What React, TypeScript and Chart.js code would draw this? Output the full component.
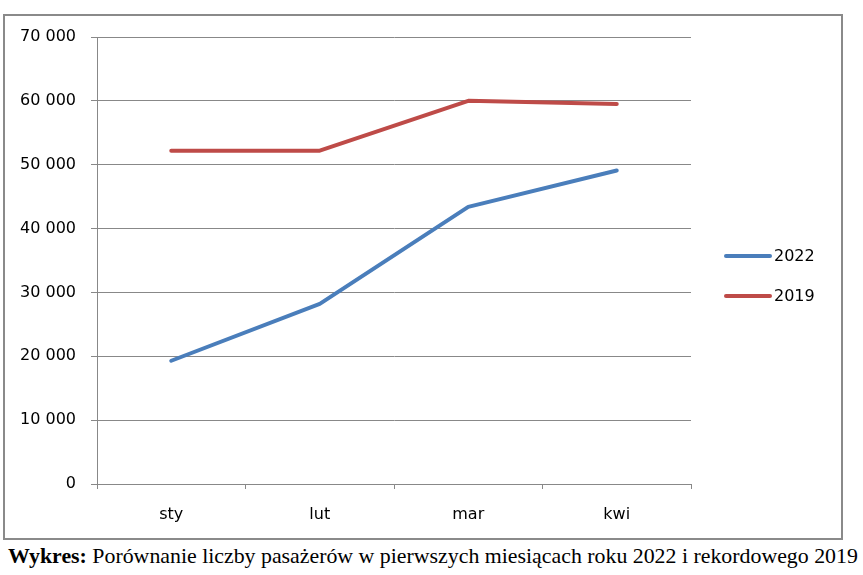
import React, { useEffect, useRef } from "react";
import { Chart, registerables } from "chart.js";

Chart.register(...registerables);

const months = ["sty", "lut", "mar", "kwi"];
const series2022 = [19300, 28200, 43400, 49100];
const series2019 = [52200, 52200, 60000, 59500];
const seriesLabels = ["2022", "2019"];
const seriesColors = ["#4a7ebb", "#be4b48"];
const yMin = 0;
const yMax = 70000;
const yStep = 10000;

const FONT = "'DejaVu Sans', sans-serif";
const GRID = "#888888";

const fmt = (v: number) => {
  const s = String(Math.round(v));
  return s.replace(/\B(?=(\d{3})+(?!\d))/g, " ");
};

const sideLegend = {
  id: "sideLegend",
  afterDraw(chart: any) {
    const ctx = chart.ctx;
    ctx.save();
    chart.data.datasets.forEach((ds: any, i: number) => {
      const y = 240 + i * 40;
      ctx.strokeStyle = ds.borderColor;
      ctx.lineWidth = 4;
      ctx.lineCap = "round";
      ctx.beginPath();
      ctx.moveTo(721, y);
      ctx.lineTo(765, y);
      ctx.stroke();
      ctx.fillStyle = "#000";
      ctx.font = `16px ${FONT}`;
      ctx.textAlign = "left";
      ctx.textBaseline = "middle";
      ctx.fillText(ds.label, 769, y + 1);
    });
    ctx.restore();
  },
};

export default function App() {
  const ref = useRef<HTMLCanvasElement | null>(null);

  useEffect(() => {
    if (!ref.current) return;
    const chart = new Chart(ref.current, {
      type: "line",
      data: {
        labels: months,
        datasets: [
          {
            label: seriesLabels[0],
            data: series2022,
            borderColor: seriesColors[0],
            backgroundColor: seriesColors[0],
            borderWidth: 4,
            pointRadius: 0,
            tension: 0,
            borderCapStyle: "round",
            borderJoinStyle: "round",
          },
          {
            label: seriesLabels[1],
            data: series2019,
            borderColor: seriesColors[1],
            backgroundColor: seriesColors[1],
            borderWidth: 4,
            pointRadius: 0,
            tension: 0,
            borderCapStyle: "round",
            borderJoinStyle: "round",
          },
        ],
      },
      options: {
        responsive: false,
        animation: false,
        devicePixelRatio: 1,
        layout: { padding: { left: 0, top: 21, right: 150, bottom: 0 } },
        plugins: {
          legend: { display: false },
          tooltip: { enabled: false },
        },
        scales: {
          x: {
            offset: true,
            grid: {
              offset: true,
              drawOnChartArea: false,
              drawTicks: true,
              tickLength: 5,
              color: GRID,
              lineWidth: 1,
            },
            border: { display: true, color: GRID, width: 1 },
            ticks: {
              color: "#000",
              font: { family: FONT, size: 16 },
              padding: 16,
              maxRotation: 0,
            },
            afterFit(scale: any) {
              scale.height = 54;
            },
          },
          y: {
            min: yMin,
            max: yMax,
            grid: {
              color: GRID,
              lineWidth: 1,
              drawTicks: true,
              tickLength: 6,
            },
            border: { display: true, color: GRID, width: 1 },
            ticks: {
              stepSize: yStep,
              color: "#000",
              font: { family: FONT, size: 16 },
              padding: 15,
              callback: (v: any) => fmt(Number(v)),
            },
            afterFit(scale: any) {
              scale.width = 92;
              scale.paddingTop = 10;
              scale.paddingBottom = 10;
            },
          },
        },
      },
      plugins: [sideLegend],
    } as any);
    return () => chart.destroy();
  }, []);

  return (
    <div style={{ position: "absolute", left: 0, top: 0, width: 863, height: 575, background: "#fff" }}>
      <div
        style={{
          position: "absolute",
          left: 3,
          top: 14,
          width: 836,
          height: 522,
          border: "2px solid #8a8a8a",
        }}
      >
        <canvas ref={ref} width={836} height={522} style={{ display: "block" }} />
      </div>
      <div
        style={{
          position: "absolute",
          left: 8,
          top: 544,
          whiteSpace: "nowrap",
          fontFamily: "'Liberation Serif', 'Times New Roman', serif",
          fontSize: 21.85,
          lineHeight: "normal",
          color: "#000",
        }}
      >
        <b>Wykres:</b> Porównanie liczby pasażerów w pierwszych miesiącach roku 2022 i rekordowego 2019
      </div>
    </div>
  );
}
